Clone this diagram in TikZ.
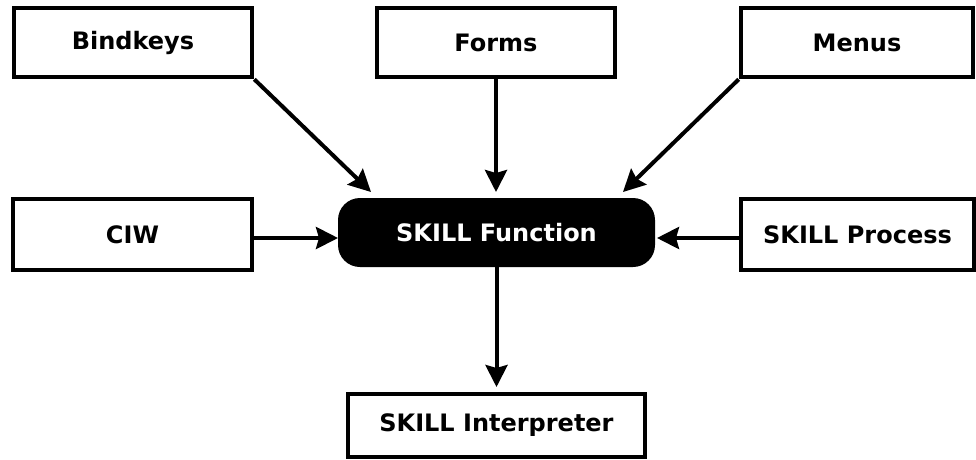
\documentclass[tikz,border=0pt]{standalone}
\usepackage{fontspec}
\setmainfont{DejaVu Sans}
\usetikzlibrary{arrows.meta,calc}
\tikzset{
  box/.style={draw=black, line width=4.6pt, fill=white, minimum width=#1, inner sep=0pt,
              font=\fontsize{24}{27}\selectfont\bfseries},
  core/.style={fill=black, text=white, rounded corners=22pt, minimum width=317pt,
               minimum height=69pt, inner sep=0pt, font=\fontsize{24}{27}\selectfont\bfseries},
  link/.style={line width=4pt, -{Stealth[length=22pt,width=22pt,inset=3pt]}},
}
\begin{document}
\begin{tikzpicture}[x=1pt,y=-1pt]
  \useasboundingbox (0,0) rectangle (976,459);
  % input sources
  \node[box=238pt, minimum height=69pt] (bind)  at (133,42.5)  {Bindkeys};
  \node[box=238pt, minimum height=69pt] (forms) at (496,42.5)  {Forms};
  \node[box=232pt, minimum height=69pt] (menus) at (857,42.5)  {Menus};
  \node[box=239pt, minimum height=71pt] (ciw)   at (132.5,234.5) {CIW};
  \node[box=233pt, minimum height=71pt] (proc)  at (857.5,234.5) {SKILL Process};
  % central function and interpreter
  \node[core] (fn) at (496.5,232.5) {SKILL Function};
  \node[box=297pt, minimum height=63pt] (interp) at (496.5,425.5) {SKILL Interpreter};
  % arrow end points just outside the central node
  \coordinate (tBind)  at (371,192);
  \coordinate (tForms) at (496,192);
  \coordinate (tMenus) at (623,192);
  \coordinate (tCiw)   at (338,238);
  \coordinate (tProc)  at (657,238);
  \coordinate (tDown)  at (496.5,387);
  % connectors
  \draw[link] (bind.south east) -- (tBind);
  \draw[link] (forms.south) -- (tForms);
  \draw[link] (menus.south west) -- (tMenus);
  \draw[link] (ciw.east |- tCiw) -- (tCiw);
  \draw[link] (proc.west |- tProc) -- (tProc);
  \draw[link] (fn.south) -- (tDown);
\end{tikzpicture}
\end{document}
